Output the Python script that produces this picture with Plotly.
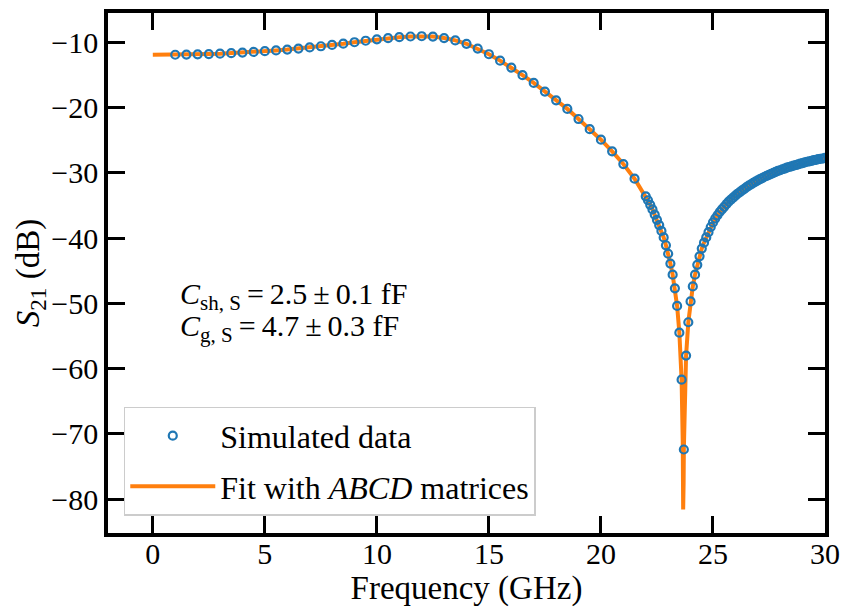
import plotly.graph_objects as go

# ---- data ----
freq_sparse = [1.0, 1.5, 2.0, 2.5, 3.0, 3.5, 4.0, 4.5, 5.0, 5.5, 6.0, 6.5, 7.0, 7.5,
               8.0, 8.5, 9.0, 9.5, 10.0, 10.5, 11.0, 11.5, 12.0, 12.5, 13.0, 13.5,
               14.0, 14.5, 15.0, 15.5, 16.0, 16.5, 17.0, 17.5, 18.0, 18.5, 19.0,
               19.5, 20.0, 20.5, 21.0, 21.5]
s21_sparse = [-11.90, -11.87, -11.84, -11.79, -11.73, -11.66, -11.57, -11.47, -11.35,
              -11.23, -11.10, -10.95, -10.78, -10.60, -10.40, -10.20, -9.98, -9.75,
              -9.53, -9.36, -9.21, -9.10, -9.06, -9.12, -9.34, -9.70, -10.22, -10.95,
              -11.82, -12.80, -13.87, -15.03, -16.22, -17.55, -18.88, -20.20, -21.75,
              -23.30, -24.92, -26.70, -28.65, -30.90]

freq_dense = [22.0, 22.1, 22.2, 22.3, 22.4, 22.5, 22.6, 22.7, 22.8, 22.9,
              23.0, 23.1, 23.2, 23.3, 23.4, 23.5, 23.6, 23.7, 23.8, 23.9,
              24.0, 24.1, 24.2, 24.3, 24.4, 24.5, 24.6, 24.7, 24.8, 24.9,
              25.0, 25.1, 25.2, 25.3, 25.4, 25.5, 25.6, 25.7, 25.8, 25.9,
              26.0, 26.1, 26.2, 26.3, 26.4, 26.5, 26.6, 26.7, 26.8, 26.9,
              27.0, 27.1, 27.2, 27.3, 27.4, 27.5, 27.6, 27.7, 27.8, 27.9,
              28.0, 28.1, 28.2, 28.3, 28.4, 28.5, 28.6, 28.7, 28.8, 28.9,
              29.0, 29.1, 29.2, 29.3, 29.4, 29.5, 29.6, 29.7, 29.8, 29.9, 30.0]
s21_dense = [-33.6, -34.2, -34.9, -35.6, -36.4, -37.2, -38.0, -38.9, -39.9, -41.1,
             -42.4, -43.9, -45.6, -47.7, -50.4, -54.5, -61.7, -72.4, -58.0, -52.9,
             -49.7, -47.4, -45.6, -44.1, -42.8, -41.6, -40.7, -39.9, -39.1, -38.3,
             -37.6, -37.0, -36.5, -36.0, -35.6, -35.2, -34.8, -34.4, -34.1, -33.8,
             -33.5, -33.2, -32.95, -32.7, -32.45, -32.2, -31.95, -31.75, -31.55, -31.35,
             -31.15, -30.95, -30.8, -30.6, -30.45, -30.3, -30.15, -30.0, -29.85, -29.7,
             -29.6, -29.45, -29.35, -29.2, -29.1, -29.0, -28.9, -28.8, -28.7, -28.6,
             -28.5, -28.4, -28.3, -28.25, -28.15, -28.05, -28.0, -27.9, -27.85, -27.8, -27.7]

# extra fit-curve samples (start of sweep and the bottom of the notch)
fit_extra_freq = [0.0, 0.5, 23.65, 23.67, 23.69]
fit_extra_s21 = [-11.90, -11.90, -71.0, -81.6, -77.4]

xticks = [0, 5, 10, 15, 20, 25, 30]
yticks = [-80, -70, -60, -50, -40, -30, -20, -10]

sim_freq = freq_sparse + freq_dense
sim_s21 = s21_sparse + s21_dense
fit_pairs = sorted(zip(sim_freq + fit_extra_freq, sim_s21 + fit_extra_s21))
fit_freq = [p[0] for p in fit_pairs]
fit_s21 = [p[1] for p in fit_pairs]

BLUE = "#1f77b4"
ORANGE = "#ff7f0e"
FONT = "Liberation Serif"

fig = go.Figure()
fig.add_trace(go.Scatter(
    x=fit_freq, y=fit_s21, mode="lines", name="Fit with <i>ABCD</i> matrices",
    line=dict(color=ORANGE, width=4), legendrank=2, legendgroup="b",
))
fig.add_trace(go.Scatter(
    x=sim_freq, y=sim_s21, mode="markers", name="Simulated data",
    marker=dict(symbol="circle-open", size=8, color=BLUE, line=dict(width=2.2, color=BLUE)),
    legendrank=1, legendgroup="a",
))

axis_common = dict(
    showline=True, linecolor="black", linewidth=3.5, mirror="allticks",
    ticks="inside", ticklen=17, tickwidth=3, tickcolor="black",
    showgrid=False, zeroline=False, automargin=False,
    tickfont=dict(family=FONT, size=30, color="black"),
)

fig.update_xaxes(
    range=[-2, 30], tickvals=xticks, ticklabelstandoff=-9,
    title=dict(text="Frequency (GHz)", font=dict(family=FONT, size=33, color="black"), standoff=4),
    **axis_common,
)
fig.update_yaxes(
    range=[-85.2, -5.5], tickvals=yticks,
    title=dict(text="<i>S</i><sub>21</sub> (dB)", font=dict(family=FONT, size=33, color="black"), standoff=3),
    **axis_common,
)

fig.add_annotation(
    xref="paper", yref="paper", x=0.097, y=0.456, xanchor="left", yanchor="middle",
    text="<i>C</i><sub>sh, S</sub>\u2009=\u20092.5\u2009±\u20090.1 fF", showarrow=False,
    font=dict(family=FONT, size=30, color="black"),
)
fig.add_annotation(
    xref="paper", yref="paper", x=0.097, y=0.394, xanchor="left", yanchor="middle",
    text="<i>C</i><sub>g, S</sub>\u2009=\u20094.7\u2009±\u20090.3 fF", showarrow=False,
    font=dict(family=FONT, size=30, color="black"),
)

fig.update_layout(
    width=843, height=612,
    margin=dict(l=108, r=18, t=13, b=79, autoexpand=False),
    plot_bgcolor="white", paper_bgcolor="white",
    showlegend=True,
    legend=dict(
        x=0.022, y=0.033, xanchor="left", yanchor="bottom",
        bgcolor="rgba(255,255,255,0.8)", bordercolor="#cccccc", borderwidth=1.5,
        font=dict(family=FONT, size=32, color="black"),
        tracegroupgap=6, itemwidth=85,
    ),
)

# remove the default 8 px page margin so the figure fills the window exactly
fig.write_html(
    "out.html",
    config={"displayModeBar": False},
    post_script="document.body.style.margin='0';document.body.style.overflow='hidden';",
)
